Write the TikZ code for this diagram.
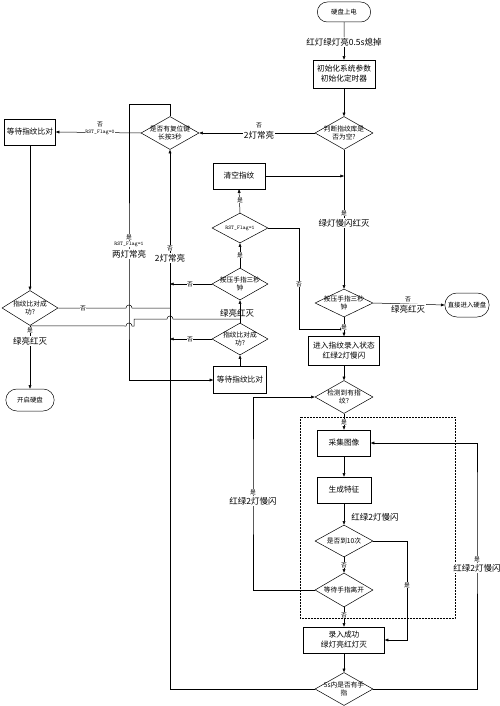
\documentclass[tikz,border=0pt]{standalone}
\usepackage{fontspec}
\setmainfont{Noto Sans CJK SC}
\usetikzlibrary{arrows.meta,shapes.geometric,shapes.misc}
\begin{document}
\begin{tikzpicture}[x=1pt, y=-1pt, line width=0.5pt,
  >={Triangle[length=3.6pt,width=2.8pt]},
  box/.style={draw, rectangle, align=center, font=\fontsize{7.7}{10}\selectfont,
    minimum width=#1, minimum height=26pt, inner sep=1pt},
  box/.default=53pt,
  dia/.style={draw, diamond, aspect=1.9, inner sep=-2.5pt, align=center,
    font=\fontsize{6.7}{7.6}\selectfont, minimum width=58pt, minimum height=33pt},
  term/.style={draw, rounded rectangle, font=\fontsize{6.4}{7}\selectfont,
    minimum width=#1, minimum height=22pt},
  big/.style={font=\fontsize{8.5}{9}\selectfont, inner sep=1pt},
  tag/.style={font=\fontsize{5.8}{6}\selectfont, inner sep=0.5pt},
  flag/.style={font=\ttfamily\fontsize{5.5}{6}\selectfont, inner sep=0.5pt},
  cover/.style={fill=white}]
  \useasboundingbox (0,0) rectangle (500,706);
  % main column
  \node[term=60pt, minimum height=20pt] (start) at (344,12) {硬盘上电};
  \node[big] (led) at (344,42) {红灯绿灯亮0.5s熄掉};
  \node[box=62pt, minimum height=28pt] (init) at (344,74) {初始化系统参数\\初始化定时器};
  \node[dia] (judge) at (344,133) {判断指纹库是\\否为空?};
  \node[dia, minimum height=28pt] (press) at (344,303) {按压手指三秒\\钟};
  \node[term=51pt, minimum height=24pt] (direct) at (467,305) {直接进入硬盘};
  \node[box=71pt, minimum height=29pt] (enroll) at (344,351) {进入指纹录入状态\\红绿2灯慢闪};
  \node[dia] (detect) at (344,397) {检测到有指\\纹?};
  \node[box] (capture) at (344,443) {采集图像};
  \node[box=54pt] (feature) at (344,490) {生成特征};
  \node[dia, minimum height=32pt] (count) at (344,541) {是否到10次};
  \node[dia, minimum height=34pt] (leave) at (344,590) {等待手指离开};
  \node[box=81pt] (done) at (344,640) {录入成功\\绿灯亮红灯灭};
  \node[dia] (five) at (344,689) {5s内是否有手\\指};
  \draw[densely dotted] (300,417) rectangle (455,618);
  % reset and left column
  \node[dia] (reset) at (170,133) {是否有复位键\\长按3秒};
  \node[box=51pt] (lwait) at (30,132) {等待指纹比对};
  \node[dia, minimum width=56pt, minimum height=35pt] (lcmp) at (30,308) {指纹比对成\\功?};
  \node[term=55pt] (hdd) at (30,400) {开启硬盘};
  % middle column
  \node[box=52pt] (clear) at (239,176) {清空指纹};
  \node[dia, minimum width=56pt, minimum height=30pt] (rstflag) at (240,228)
    {\ttfamily\fontsize{5.5}{6}\selectfont RST\_Flag=1};
  \node[dia, minimum width=56pt, minimum height=32pt] (press2) at (240,284) {按压手指三秒\\钟};
  \node[dia, minimum width=56pt, minimum height=32pt] (cmp2) at (240,339) {指纹比对成\\功?};
  \node[box, minimum height=27pt] (wait2) at (240,380) {等待指纹比对};

  \draw (start) -- (led);
  \draw[->] (led) -- (init);
  \draw[->] (init) -- (judge);
  \draw[->] (judge.west) -- (reset.east);
  \draw[->] (reset.west) -- (lwait.east);
  \draw[->] (reset.north) -- ++(0,-12) -| (129,300) |- (wait2.west);
  \draw[->] (lwait.south) -- (lcmp.north);
  \draw[->] (lcmp.south) -- (hdd.north);
  \draw (lcmp.east) -- (126,308) arc[start angle=180, end angle=360, radius=3]
    -- (lcmp.east -| reset.south);
  \draw (lcmp.south) -- (126,326) arc[start angle=180, end angle=360, radius=3]
    -- (134,326) -- (134,319) -- (167,319) arc[start angle=180, end angle=360, radius=3]
    -- (cmp2.north |- 0,319);
  \draw[->] (press2.west) -- (press2.west -| reset.south);
  \draw[->] (cmp2.west) -- (cmp2.west -| reset.south);
  \draw[->] (wait2.north) -- (cmp2.south);
  \draw[->] (cmp2.north) -- (press2.south);
  \draw[->] (press2.north) -- (rstflag.south);
  \draw[->] (rstflag.north) -- (clear.south);
  \draw[->] (clear.east) -- (clear.east -| judge.south);
  \draw[->] (judge.south) -- (press.north);
  \draw[->] (rstflag.east) -| (299,329) -- (299,329 -| press.south);
  \draw[->] (press.south) -- (enroll.north);
  \draw[->] (press.east) -- (direct.west);
  \draw[->] (enroll.south) -- (detect.north);
  \draw[->] (detect.south) -- (capture.north);
  \draw[->] (capture.south) -- (feature.north);
  \draw[->] (feature.south) -- (count.north);
  \draw[->] (count.south) -- (leave.north);
  \draw[->] (count.east) -- ++(34,0) |- (done.east);
  \draw[->] (leave.west) -| (253,480) |- (detect.west);
  \draw[->] (leave.south) -- (done.north);
  \draw[->] (done.south) -- (five.north);
  \draw[->] (five.east) -| (477,500) |- (capture.east);
  \draw[->] (five.west) -| (reset.south);

  % branch labels
  \foreach \x/\y/\t [count=\i] in {259/125/否, 100/124/否, 129/237/是, 170/248/否,
      83/308/否, 30/330/是, 190/284/否, 190/339/否, 240/255/是, 240/200/是,
      299/284/否, 344/213/是, 344/327/是, 408/299/否, 344/422/是, 344/565/否,
      407/585/是, 253/492/是, 344/615/否, 477/559/是}
    \node[tag, cover] (tag\i) at (\x,\y) {\t};
  \foreach \x/\y/\t [count=\i] in {259/135/2灯常亮, 129/254/两灯常亮, 170/258/2灯常亮,
      30/341/绿亮红灭, 344/223/绿灯慢闪红灭, 408/309/绿亮红灭, 253/501/红绿2灯慢闪,
      477/568/红绿2灯慢闪}
    \node[big, cover] (lamp\i) at (\x,\y) {\t};
  \node[big] (lamp9) at (237,313) {绿亮红灭};
  \node[big] (lamp10) at (375,517) {红绿2灯慢闪};
  \node[flag, cover] (flag0) at (100,132) {RST\_Flag=0};
  \node[flag, cover] (flag1) at (129,244) {RST\_Flag=1};
\end{tikzpicture}
\end{document}
